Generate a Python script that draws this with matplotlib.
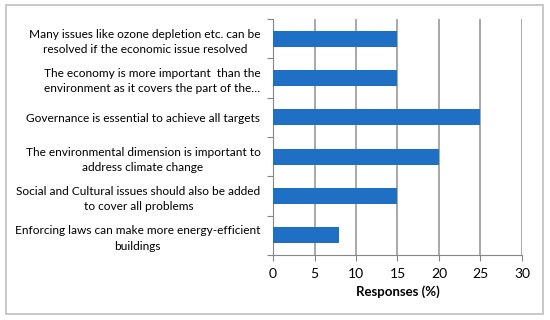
import matplotlib.pyplot as plt
import numpy as np

# statements, top to bottom as shown
labels = [
    "Many issues like ozone depletion etc. can be\nresolved if the economic issue resolved",
    "The economy is more important  than the\nenvironment as it covers the part of the\u2026",
    "Governance is essential to achieve all targets",
    "The environmental dimension is important to\naddress climate change",
    "Social and Cultural issues should also be added\nto cover all problems",
    "Enforcing laws can make more energy-efficient\nbuildings",
]
responses = [15, 15, 25, 20, 15, 8]
xticks = [0, 5, 10, 15, 20, 25, 30]

plt.rcParams['font.family'] = ['Lato', 'DejaVu Sans']

fig = plt.figure(figsize=(5.5, 3.2), dpi=100)
ax = fig.add_axes([273 / 550, 1 - 255 / 320, (522 - 273) / 550, (255 - 19) / 320])

# outer chart border
fig.patches.append(plt.Rectangle((6 / 550, 6 / 320), 537 / 550, 309 / 320,
                                 transform=fig.transFigure, fill=False,
                                 edgecolor='#bfbfbf', linewidth=1.2))

pos = np.arange(len(labels))
ax.barh(pos, responses, height=0.4, color='#1f6fc5', zorder=3)
ax.set_ylim(len(labels) - 0.5, -0.5)
ax.set_xlim(0, 30)

ax.set_xticks(xticks)
ax.set_xticklabels([str(v) for v in xticks], fontsize=10)
ax.tick_params(axis='x', length=4, color='#868686', pad=5)
ax.xaxis.grid(True, color='#9a9a9a', linewidth=1.2, zorder=0)

# category boundary ticks, labels on minor ticks
ax.set_yticks(np.arange(-0.5, len(labels), 1))
ax.set_yticklabels([])
ax.tick_params(axis='y', which='major', length=4, color='#868686')
ax.set_yticks(pos, minor=True)
ax.set_yticklabels(labels, minor=True, fontsize=8.6)
for t in ax.get_yticklabels(minor=True):
    t.set_multialignment('center')
    t.set_linespacing(1.5)
ax.tick_params(axis='y', which='minor', length=0, pad=9)

for s in ['top', 'right']:
    ax.spines[s].set_visible(False)
for s in ['left', 'bottom']:
    ax.spines[s].set_color('#868686')

ax.set_xlabel("Responses (%)", fontsize=9.5, fontweight='bold', labelpad=4)

fig.savefig("out.png", dpi=100)
